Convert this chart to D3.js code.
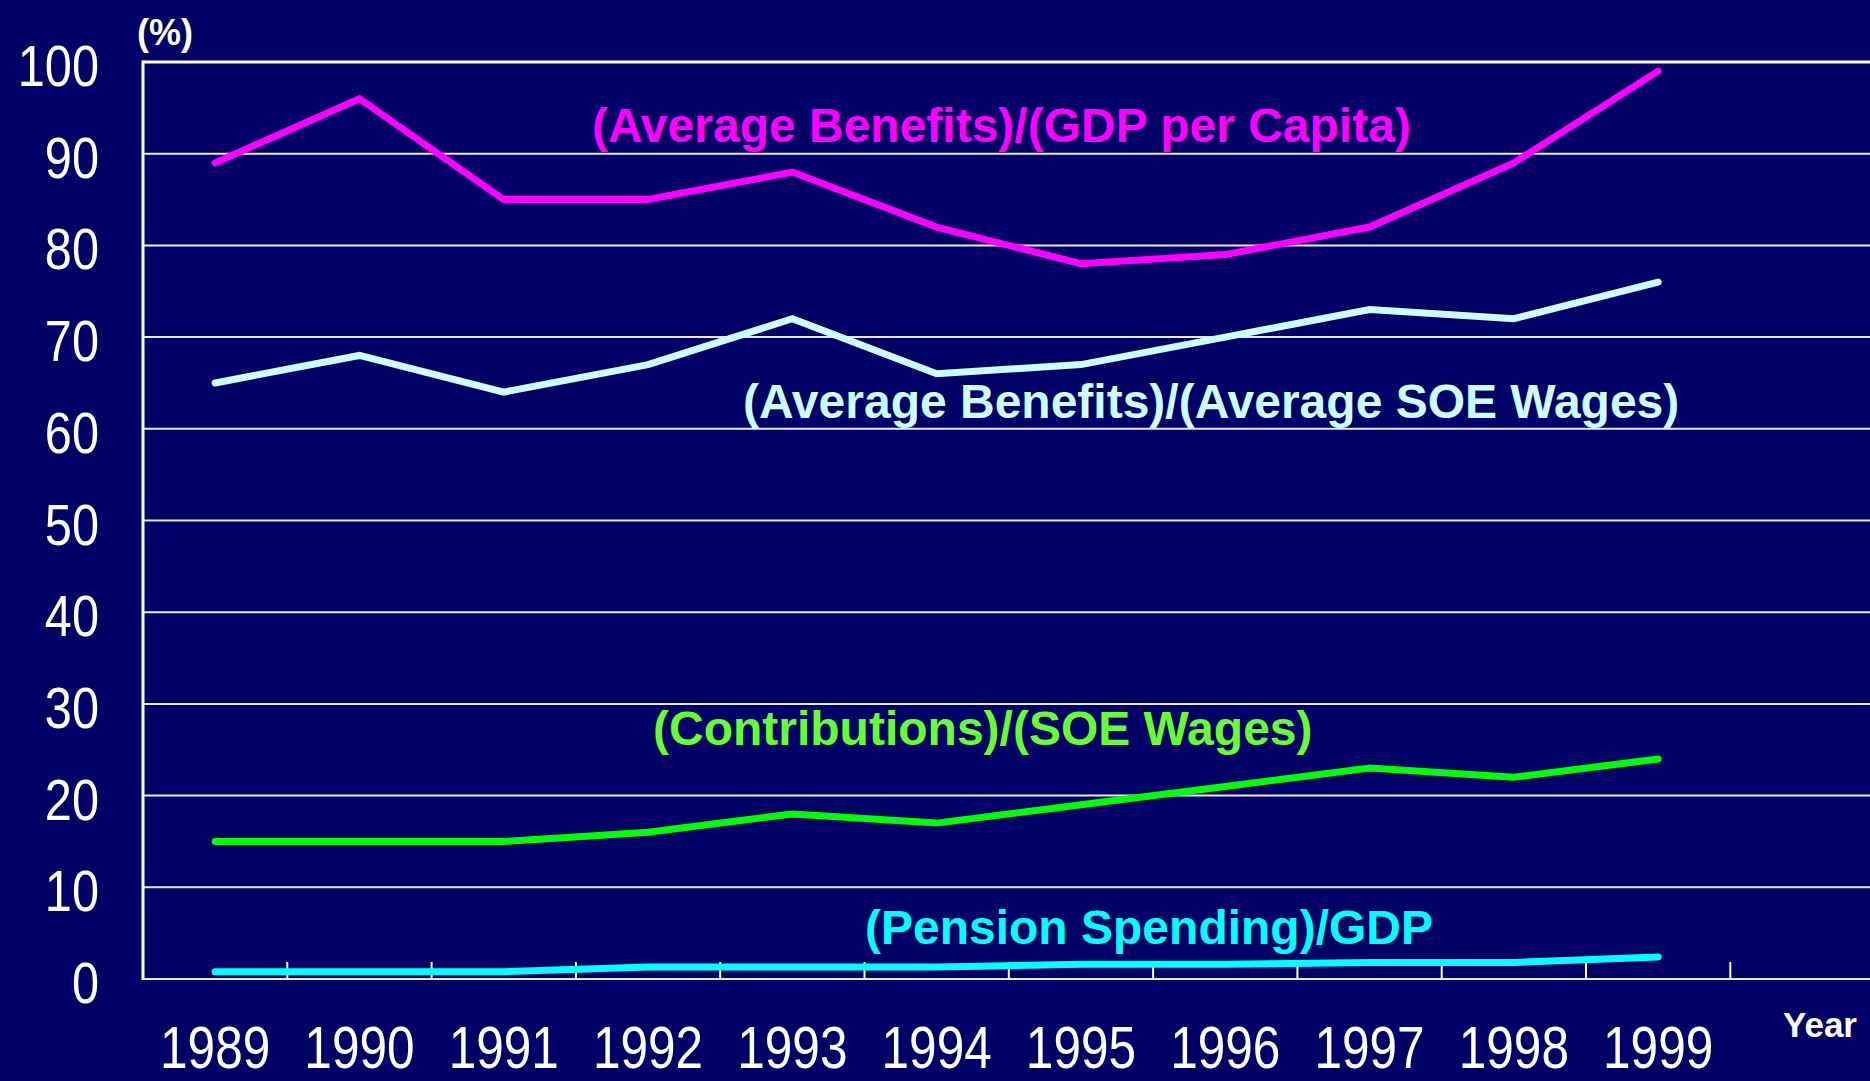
<!DOCTYPE html>
<html>
<head>
<meta charset="utf-8">
<script src="https://cdn.jsdelivr.net/npm/d3@7"></script>
<style>
  body { margin: 0; background: #000066; }
  svg { display: block; }
</style>
</head>
<body>
<svg width="1870" height="1081"></svg>
<script>
var years = [1989, 1990, 1991, 1992, 1993, 1994, 1995, 1996, 1997, 1998, 1999];
var yTicks = [0, 10, 20, 30, 40, 50, 60, 70, 80, 90, 100];

// values, in %
var benefitsGdp = [89, 96, 85, 85, 88, 82, 78, 79, 82, 89, 99];
var benefitsWages = [65, 68, 64, 67, 72, 66, 67, 70, 73, 72, 76];
var contribWages = [15, 15, 15, 16, 18, 17, 19, 21, 23, 22, 24];
var pensionGdp = [0.8, 0.8, 0.8, 1.3, 1.3, 1.3, 1.6, 1.6, 1.8, 1.8, 2.4];

var seriesNames = [
  "(Average Benefits)/(GDP per Capita)",
  "(Average Benefits)/(Average SOE Wages)",
  "(Contributions)/(SOE Wages)",
  "(Pension Spending)/GDP"
];

var svg = d3.select("svg");
var W = +svg.attr("width"), H = +svg.attr("height");
var plotLeft = 143, plotBottom = 979, plotTop = 62;
var narrow = "'Liberation Sans', Arial, sans-serif";

svg.append("rect").attr("width", W).attr("height", H).attr("fill", "#000066");

var x = d3.scaleBand().domain(years).range([plotLeft, plotLeft + 11 * 144.3]).padding(0);
var y = d3.scaleLinear().domain([0, 100]).range([plotBottom, plotTop]);

// horizontal grid
svg.append("g").selectAll("line").data(yTicks).enter().append("line")
    .attr("x1", plotLeft).attr("x2", W)
    .attr("y1", function(d) { return y(d); })
    .attr("y2", function(d) { return y(d); })
    .attr("stroke", function(d) { return d === 100 ? "#ffffff" : "#e8e8ff"; })
    .attr("stroke-width", function(d) { return d === 100 ? 3 : 2; });

// left axis line
svg.append("line")
    .attr("x1", plotLeft).attr("x2", plotLeft)
    .attr("y1", plotTop - 1.5).attr("y2", plotBottom + 1)
    .attr("stroke", "#fff").attr("stroke-width", 3);

// year boundary ticks, pointing up from the base line
svg.append("g").selectAll("line").data(years).enter().append("line")
    .attr("x1", function(d) { return x(d) + x.bandwidth(); })
    .attr("x2", function(d) { return x(d) + x.bandwidth(); })
    .attr("y1", plotBottom).attr("y2", plotBottom - 17)
    .attr("stroke", "#fff").attr("stroke-width", 2);

// y axis labels (condensed look)
var yAxis = d3.axisLeft(y).tickValues(yTicks).tickSize(0).tickPadding(0);
var gy = svg.append("g").attr("transform", "translate(99,0)").call(yAxis);
gy.select(".domain").remove();
gy.selectAll("text")
    .attr("dy", null).attr("y", 23.5).attr("x", 0)
    .attr("transform", "scale(0.84,1)")
    .attr("fill", "#fff")
    .style("font-family", narrow)
    .style("font-size", "58px")
    .style("text-anchor", "end");

// x axis labels
var xAxis = d3.axisBottom(x).tickSize(0).tickPadding(0);
var gx = svg.append("g").attr("transform", "translate(0," + plotBottom + ")").call(xAxis);
gx.select(".domain").remove();
gx.selectAll("text")
    .attr("dy", null).attr("y", 89)
    .attr("transform", "scale(0.84,1)")
    .attr("fill", "#fff")
    .style("font-family", narrow)
    .style("font-size", "59px");

svg.append("text").attr("x", 137).attr("y", 45).text("(%)")
    .attr("fill", "#fff")
    .style("font-family", "'Liberation Sans', Arial, sans-serif")
    .style("font-weight", "bold").style("font-size", "36px");

svg.append("text").attr("x", 1783).attr("y", 1037).text("Year")
    .attr("fill", "#fff")
    .style("font-family", "'Liberation Sans', Arial, sans-serif")
    .style("font-weight", "bold").style("font-size", "35px");

var series = [
  {values: benefitsGdp, line: "#ff00ff", text: "#ff00ff", lx: 592, ly: 142},
  {values: benefitsWages, line: "#ccffff", text: "#ccffff", lx: 743, ly: 418},
  {values: contribWages, line: "#00ff00", text: "#66ff33", lx: 653, ly: 745},
  {values: pensionGdp, line: "#00ffff", text: "#00ffff", lx: 865, ly: 944}
];

var line = d3.line()
    .x(function(d, i) { return x(years[i]) + x.bandwidth() / 2; })
    .y(function(d) { return y(d); });

series.forEach(function(s, k) {
  svg.append("path")
      .attr("d", line(s.values))
      .attr("fill", "none")
      .attr("stroke", s.line)
      .attr("stroke-width", 7)
      .attr("stroke-linecap", "round")
      .attr("stroke-linejoin", "miter");

  svg.append("text")
      .attr("x", s.lx).attr("y", s.ly)
      .text(seriesNames[k])
      .attr("fill", s.text)
      .style("font-family", "'Liberation Sans', Arial, sans-serif")
      .style("font-weight", "bold").style("font-size", "48px");
});
</script>
</body>
</html>
